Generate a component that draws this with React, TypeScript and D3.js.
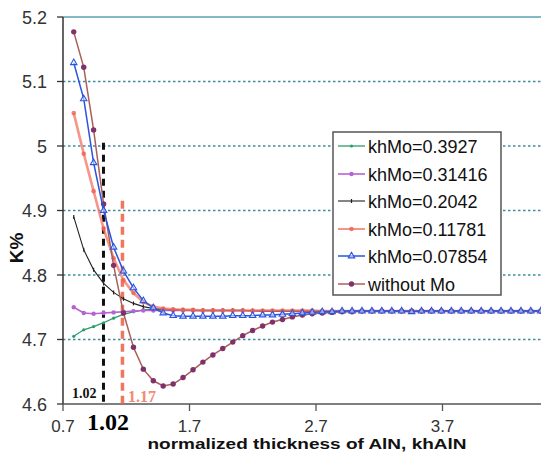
import React from "react";
import * as d3 from "d3";

const khAlN = [0.785, 0.864, 0.942, 1.021, 1.1, 1.178, 1.257, 1.335, 1.414, 1.492, 1.571, 1.649, 1.728, 1.806, 1.885, 1.963, 2.042, 2.121, 2.199, 2.278, 2.356, 2.435, 2.513, 2.592, 2.67, 2.749, 2.827, 2.906, 2.985, 3.063, 3.142, 3.22, 3.299, 3.377, 3.456, 3.534, 3.613, 3.691, 3.77, 3.848, 3.927, 4.006, 4.084, 4.163, 4.241, 4.32, 4.398, 4.477];

const seriesNames = ["khMo=0.3927", "khMo=0.31416", "khMo=0.2042", "khMo=0.11781", "khMo=0.07854", "without Mo"];

const k03927 = [4.705, 4.715, 4.72, 4.726, 4.733, 4.739, 4.743, 4.746, 4.747, 4.747, 4.746, 4.746, 4.745, 4.745, 4.745, 4.745, 4.745, 4.745, 4.744, 4.744, 4.744, 4.744, 4.744, 4.744, 4.744, 4.744, 4.744, 4.744, 4.744, 4.744, 4.744, 4.744, 4.744, 4.744, 4.744, 4.744, 4.744, 4.744, 4.744, 4.744, 4.744, 4.744, 4.744, 4.744, 4.744, 4.744, 4.744, 4.744];
const k031416 = [4.75, 4.741, 4.74, 4.741, 4.742, 4.743, 4.744, 4.745, 4.745, 4.745, 4.745, 4.745, 4.745, 4.745, 4.745, 4.745, 4.745, 4.745, 4.744, 4.744, 4.744, 4.744, 4.744, 4.744, 4.744, 4.744, 4.744, 4.744, 4.744, 4.744, 4.744, 4.744, 4.744, 4.744, 4.744, 4.744, 4.744, 4.744, 4.744, 4.744, 4.744, 4.744, 4.744, 4.744, 4.744, 4.744, 4.744, 4.744];
const k02042 = [4.89, 4.839, 4.808, 4.787, 4.773, 4.763, 4.756, 4.751, 4.748, 4.747, 4.746, 4.746, 4.745, 4.745, 4.745, 4.745, 4.745, 4.745, 4.745, 4.744, 4.744, 4.744, 4.744, 4.744, 4.744, 4.744, 4.744, 4.744, 4.744, 4.744, 4.744, 4.744, 4.744, 4.744, 4.744, 4.744, 4.744, 4.744, 4.744, 4.744, 4.744, 4.744, 4.744, 4.744, 4.744, 4.744, 4.744, 4.744];
const k011781 = [5.051, 4.988, 4.93, 4.872, 4.826, 4.792, 4.772, 4.758, 4.751, 4.748, 4.747, 4.746, 4.746, 4.745, 4.745, 4.745, 4.745, 4.745, 4.745, 4.745, 4.745, 4.745, 4.745, 4.745, 4.745, 4.744, 4.744, 4.744, 4.744, 4.744, 4.744, 4.744, 4.744, 4.744, 4.744, 4.744, 4.744, 4.744, 4.744, 4.744, 4.744, 4.744, 4.744, 4.744, 4.744, 4.744, 4.744, 4.744];
const k007854 = [5.129, 5.073, 4.974, 4.9, 4.843, 4.806, 4.78, 4.76, 4.749, 4.741, 4.737, 4.736, 4.736, 4.736, 4.736, 4.736, 4.737, 4.737, 4.737, 4.738, 4.738, 4.739, 4.74, 4.741, 4.742, 4.743, 4.743, 4.744, 4.744, 4.744, 4.744, 4.744, 4.744, 4.744, 4.743, 4.744, 4.744, 4.744, 4.744, 4.744, 4.744, 4.744, 4.744, 4.744, 4.744, 4.744, 4.744, 4.744];
const withoutMo = [5.177, 5.122, 5.025, 4.91, 4.815, 4.741, 4.688, 4.654, 4.636, 4.628, 4.631, 4.641, 4.653, 4.665, 4.676, 4.686, 4.696, 4.706, 4.714, 4.721, 4.727, 4.731, 4.735, 4.738, 4.74, 4.741, 4.742, 4.743, 4.743, 4.744, 4.744, 4.744, 4.744, 4.744, 4.744, 4.744, 4.744, 4.744, 4.744, 4.744, 4.744, 4.744, 4.744, 4.744, 4.744, 4.744, 4.744, 4.744];

const xTicks = [0.7, 1.7, 2.7, 3.7];
const yTicks = [4.6, 4.7, 4.8, 4.9, 5.0, 5.1, 5.2];
const markX = [1.02, 1.17];

const styles = [
  { color: "#2a9d6c", width: 1.3, marker: "dot", r: 1.6, mcolor: "#2a9d6c" },
  { color: "#b463d4", width: 1.6, marker: "dot", r: 2.2, mcolor: "#b463d4" },
  { color: "#222222", width: 1.1, marker: "dash", r: 1.5, mcolor: "#222222" },
  { color: "#f47a6a", width: 2.6, marker: "dot", r: 2.3, mcolor: "#f06050", opacity: 0.8 },
  { color: "#2a55e0", width: 1.5, marker: "tri", r: 3, mcolor: "#2a55e0" },
  { color: "#a8605a", width: 1.5, marker: "dot", r: 2.7, mcolor: "#80306a" },
];

export default function App() {
  const W = 541, H = 454;
  const x = d3.scaleLinear().domain([0.7, 1.7]).range([63, 189.5]);
  const y = d3.scaleLinear().domain([4.6, 5.2]).range([404, 17]);
  const all = [k03927, k031416, k02042, k011781, k007854, withoutMo];
  const line = d3.line<number>().x((_, i) => x(khAlN[i])).y((d) => y(d));
  const drawOrder = [0, 1, 2, 3, 5, 4];
  const triPath = d3.symbol().type(d3.symbolTriangle).size(18)();

  const marker = (s: any, cx: number, cy: number, key: string) => {
    if (s.marker === "tri")
      return <path key={key} d={triPath!} transform={`translate(${cx},${cy})`} fill="white" fillOpacity={0.5} stroke={s.mcolor} strokeWidth={1.1} />;
    if (s.marker === "dash")
      return <line key={key} x1={cx} x2={cx} y1={cy - 2} y2={cy + 2} stroke={s.mcolor} strokeWidth={1.2} />;
    return <circle key={key} cx={cx} cy={cy} r={s.r} fill={s.mcolor} opacity={s.opacity ?? 1} />;
  };

  const legY = [146, 174, 201, 229, 256, 284];

  return (
    <svg width={W} height={H} style={{ position: "absolute", left: 0, top: 0, background: "white" }} fontFamily="'Liberation Sans', Arial, sans-serif">
      <rect width={W} height={H} fill="white" />
      {yTicks.filter((t) => t > 4.6 && t < 5.2).map((t) => (
        <line key={t} x1={63} x2={W} y1={y(t)} y2={y(t)} stroke="#3f8c9e" strokeWidth={1.6} strokeDasharray="2.5,2.5" />
      ))}
      <line x1={63} x2={W} y1={y(5.2)} y2={y(5.2)} stroke="#5aa2b2" strokeWidth={1.5} />
      <line x1={63} x2={63} y1={y(5.2)} y2={y(4.6)} stroke="#333" strokeWidth={1.5} />
      <line x1={63} x2={W} y1={y(4.6)} y2={y(4.6)} stroke="#555" strokeWidth={1.5} />
      {yTicks.map((t) => (
        <g key={t}>
          <line x1={57} x2={63} y1={y(t)} y2={y(t)} stroke="#333" strokeWidth={1.3} />
          <text x={47} y={y(t) + 6.5} textAnchor="end" fontSize={18} fill="#333">{d3.format(".1f")(t).replace("5.0", "5")}</text>
        </g>
      ))}
      {xTicks.map((t) => (
        <g key={t}>
          <line x1={x(t)} x2={x(t)} y1={y(4.6)} y2={y(4.6) + 7} stroke="#555" strokeWidth={1.3} />
          <text x={x(t)} y={432} textAnchor="middle" fontSize={17} fill="#333">{t.toFixed(1)}</text>
        </g>
      ))}
      <line x1={x(markX[0])} x2={x(markX[0])} y1={y(5.005)} y2={y(4.6)} stroke="#111" strokeWidth={3} strokeDasharray="7,5" />
      <line x1={x(markX[1])} x2={x(markX[1])} y1={y(4.915)} y2={y(4.6)} stroke="#f0684e" strokeWidth={3.5} strokeDasharray="8,5" opacity={0.9} />
      {drawOrder.map((si) => {
        const s = styles[si];
        return (
          <g key={si}>
            <path d={line(all[si])!} fill="none" stroke={s.color} strokeWidth={s.width} opacity={s.opacity ?? 1} />
            {all[si].map((v, i) => marker(s, x(khAlN[i]), y(v), `${si}-${i}`))}
          </g>
        );
      })}
      <text x={72} y={398} fontFamily="'Liberation Serif', serif" fontWeight="bold" fontSize={14} fill="#111">{markX[0].toFixed(2)}</text>
      <text x={128} y={402} fontFamily="'Liberation Serif', serif" fontWeight="bold" fontSize={16} fill="#f28a72">{markX[1].toFixed(2)}</text>
      <text x={87} y={430} fontFamily="'Liberation Serif', serif" fontWeight="bold" fontSize={24} fill="#000">{markX[0].toFixed(2)}</text>
      <rect x={333} y={132} width={168} height={163} fill="white" stroke="#555" strokeWidth={1.5} />
      {seriesNames.map((n, i) => {
        const s = styles[i];
        return (
          <g key={n}>
            <line x1={338} x2={365} y1={legY[i]} y2={legY[i]} stroke={s.color} strokeWidth={Math.min(s.width, 2)} opacity={s.opacity ?? 1} />
            {marker(s, 351.5, legY[i], `leg-${i}`)}
            <text x={368} y={legY[i] + 6.5} fontSize={18} fill="#111">{n}</text>
          </g>
        );
      })}
      <text x={307} y={449} textAnchor="middle" fontSize={15} fontWeight="bold" fill="#111" textLength={319} lengthAdjust="spacingAndGlyphs">normalized thickness of AlN, khAlN</text>
      <text transform="translate(23,248) rotate(-90)" textAnchor="middle" fontSize={19} fontWeight="bold" fill="#111">K%</text>
    </svg>
  );
}
